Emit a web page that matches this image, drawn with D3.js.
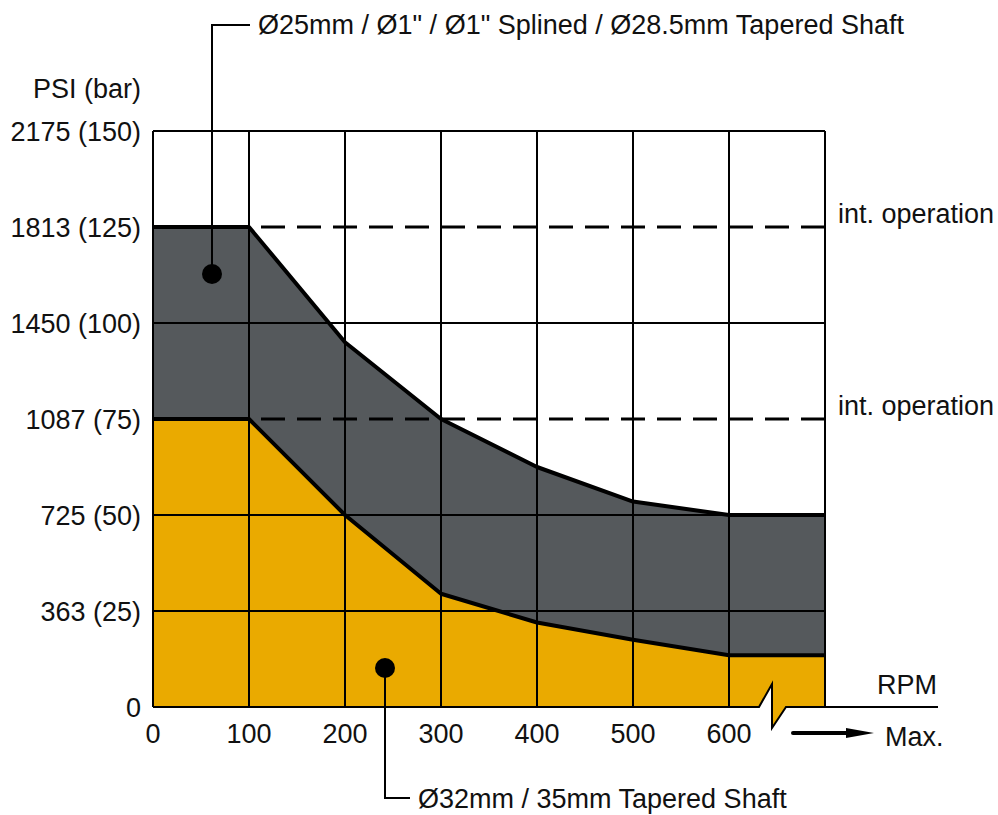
<!DOCTYPE html>
<html>
<head>
<meta charset="utf-8">
<script src="https://cdn.jsdelivr.net/npm/d3@7"></script>
<style>
  body { margin: 0; background: #fff; }
  text { font-family: "Liberation Sans", Arial, sans-serif; font-size: 27px; fill: #111; }
</style>
</head>
<body>
<svg id="chart"></svg>
<script>
var w = 998;
var h = 815;

// data (bar vs rpm)
var rpm = [0, 100, 200, 300, 400, 500, 600, 700];
var upperBar = [125, 125, 95, 75, 62.5, 53.5, 50, 50];
var lowerBar = [75, 75, 50, 29.5, 22, 17.5, 13.5, 13.5];
var yTicks = [0, 25, 50, 75, 100, 125, 150];
var yTickLabels = ["0", "363 (25)", "725 (50)", "1087 (75)", "1450 (100)", "1813 (125)", "2175 (150)"];
var xTicks = [0, 100, 200, 300, 400, 500, 600];
var intLevels = [125, 75];
var upperLabel = "Ø25mm / Ø1\" / Ø1\" Splined / Ø28.5mm Tapered Shaft";
var lowerLabel = "Ø32mm / 35mm Tapered Shaft";

var svg = d3.select("#chart")
    .attr("width", w)
    .attr("height", h);

var x = d3.scaleLinear().domain([0, 700]).range([153, 825]);
var y = d3.scaleLinear().domain([0, 150]).range([707, 131]);

var grey = "#55595c";
var gold = "#eaaa00";

// break in the x axis between 600 and 700
var brk = [[759, 707], [772, 684], [772, 728], [786, 707]];

// grey band between the two curves
var upperPts = rpm.map((r, i) => [x(r), y(upperBar[i])]);
var lowerPts = rpm.map((r, i) => [x(r), y(lowerBar[i])]);

svg.append("path")
    .attr("d", d3.line()(upperPts.concat(lowerPts.slice().reverse())))
    .style("fill", grey);

// gold area under lower curve
var goldPts = lowerPts.concat([[x(700), y(0)]], brk.slice().reverse(), [[x(0), y(0)]]);
svg.append("path")
    .attr("d", d3.line()(goldPts) + "Z")
    .style("fill", gold);

// grid
var grid = svg.append("g").style("stroke", "#000").style("stroke-width", 2);
yTicks.filter(d => d > 0).forEach(function (d) {
    if (intLevels.indexOf(d) >= 0) return;
    grid.append("line")
        .attr("x1", x(0)).attr("x2", x(700))
        .attr("y1", y(d)).attr("y2", y(d));
});
rpm.forEach(function (d) {
    grid.append("line")
        .attr("x1", x(d)).attr("x2", x(d))
        .attr("y1", y(150)).attr("y2", y(0));
});

// dashed intermittent lines
intLevels.forEach(function (d) {
    svg.append("line")
        .attr("x1", x(0)).attr("x2", x(700))
        .attr("y1", y(d)).attr("y2", y(d))
        .style("stroke", "#000")
        .style("stroke-width", 3)
        .style("stroke-dasharray", "24,12");
    svg.append("text")
        .attr("x", 838).attr("y", y(d) - 4)
        .text("int. operation");
});

// curves
[upperPts, lowerPts].forEach(function (pts) {
    svg.append("path")
        .attr("d", d3.line()(pts))
        .style("fill", "none")
        .style("stroke", "#000")
        .style("stroke-width", 4)
        .style("stroke-linejoin", "round");
});

// x axis base with break
svg.append("path")
    .attr("d", d3.line()([[x(0), y(0)]].concat(brk, [[938, 707]])))
    .style("fill", "none")
    .style("stroke", "#000")
    .style("stroke-width", 2);

// y tick labels
svg.selectAll(".ylab")
    .data(yTicks)
    .enter().append("text")
    .attr("class", "ylab")
    .attr("x", 141)
    .attr("y", d => y(d) + 10)
    .attr("text-anchor", "end")
    .text((d, i) => yTickLabels[i]);

svg.append("text")
    .attr("x", 141).attr("y", 98)
    .attr("text-anchor", "end")
    .text("PSI (bar)");

// x tick labels
svg.selectAll(".xlab")
    .data(xTicks)
    .enter().append("text")
    .attr("class", "xlab")
    .attr("x", d => x(d))
    .attr("y", 743)
    .attr("text-anchor", "middle")
    .text(d => d);

svg.append("text")
    .attr("x", 937).attr("y", 694)
    .attr("text-anchor", "end")
    .text("RPM");

svg.append("text")
    .attr("x", 885).attr("y", 746)
    .text("Max.");

// arrow
svg.append("line")
    .attr("x1", 793).attr("x2", 850)
    .attr("y1", 733).attr("y2", 733)
    .style("stroke", "#000")
    .style("stroke-width", 4)
    .style("stroke-linecap", "round");
svg.append("path")
    .attr("d", d3.line()([[846, 728], [874, 733], [846, 738]]) + "Z")
    .style("fill", "#000");

// callouts
var co = svg.append("g").style("stroke", "#000").style("stroke-width", 2).style("fill", "none");
co.append("path").attr("d", d3.line()([[212, 274], [212, 25], [250, 25]]));
co.append("path").attr("d", d3.line()([[385, 668], [385, 798], [410, 798]]));

svg.append("circle").attr("cx", 212).attr("cy", 274).attr("r", 10).style("fill", "#000");
svg.append("circle").attr("cx", 385).attr("cy", 668).attr("r", 10).style("fill", "#000");

svg.append("text").attr("x", 258).attr("y", 34).text(upperLabel);
svg.append("text").attr("x", 418).attr("y", 808).text(lowerLabel);
</script>
</body>
</html>
